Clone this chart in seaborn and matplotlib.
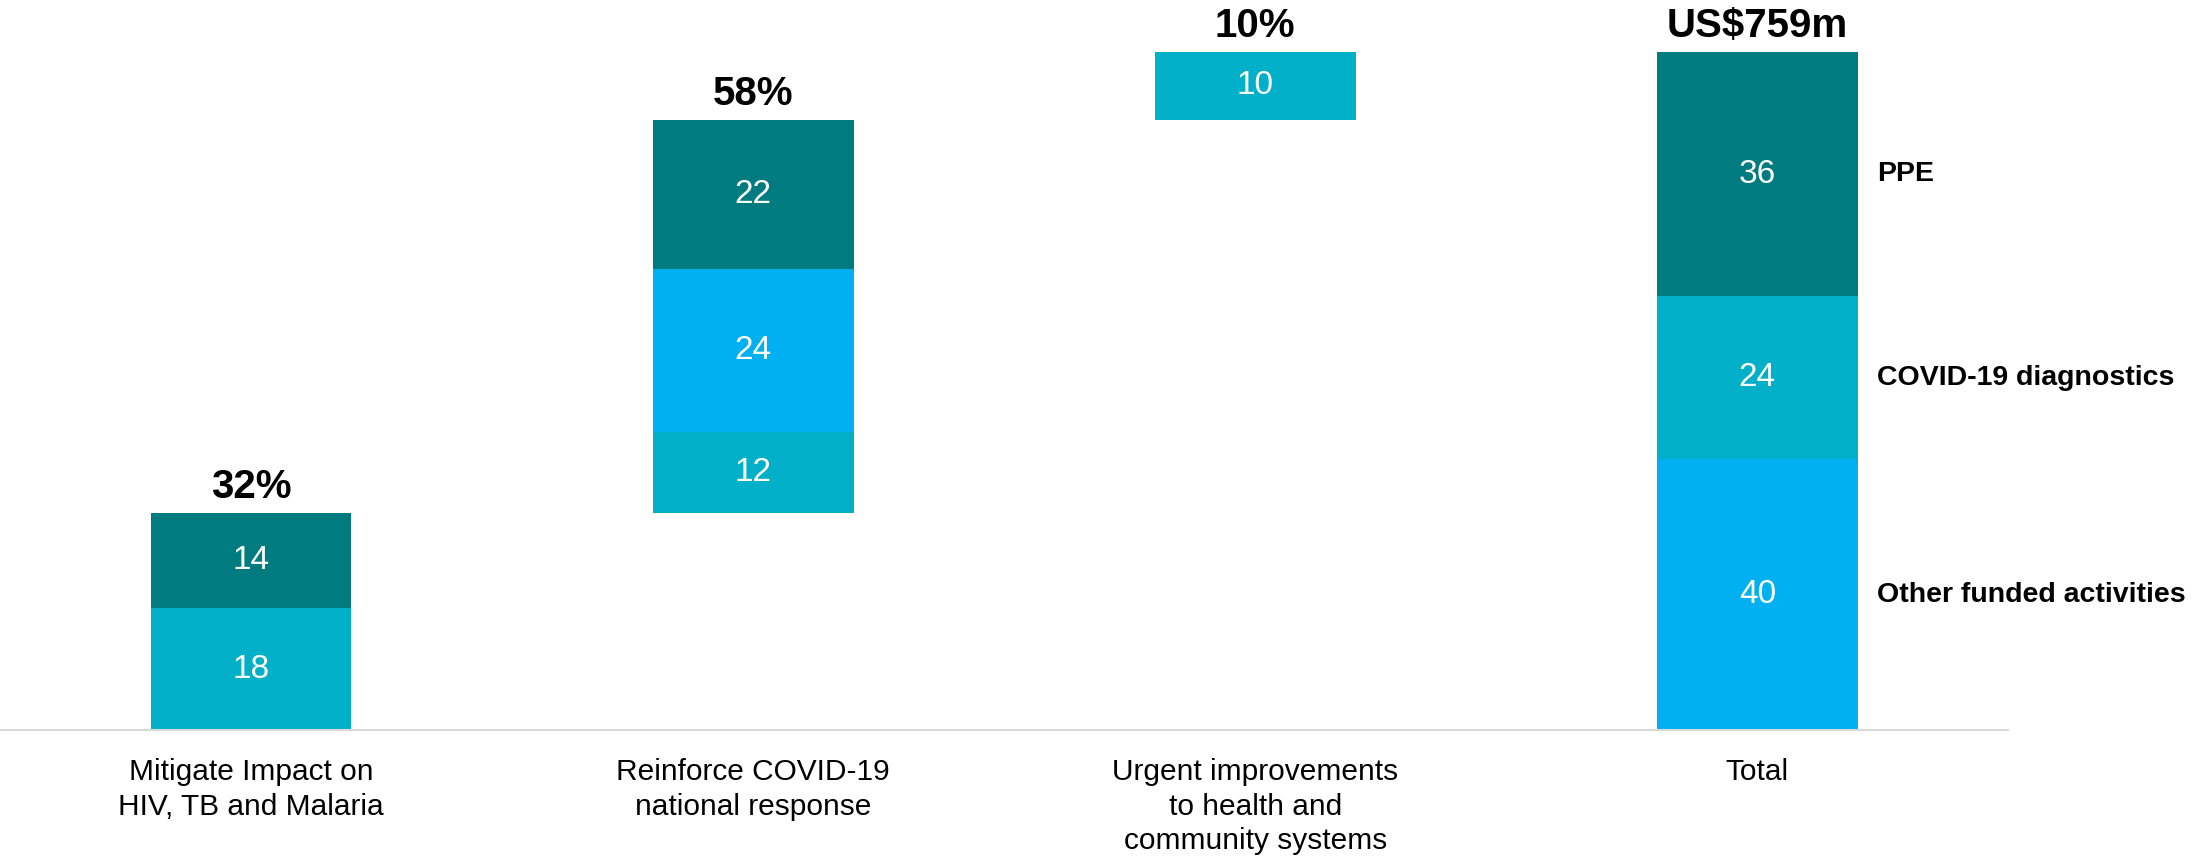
"""
Waterfall-style stacked bars: share of funding by pillar -> out.png
Run: python plot.py
"""
import matplotlib
matplotlib.use("Agg")
import matplotlib.pyplot as plt
import seaborn as sns

# categories along the x axis
categories = [
    "Mitigate Impact on\nHIV, TB and Malaria",
    "Reinforce COVID-19\nnational response",
    "Urgent improvements\nto health and\ncommunity systems",
    "Total",
]
# segment values per category, bottom to top
segment_values = [
    [18, 14],
    [12, 24, 22],
    [10],
    [40, 24, 36],
]
# where each category's stack starts (waterfall offset)
stack_starts = [0, 32, 90, 0]
# label above each bar
top_labels = ["32%", "58%", "10%", "US$759m"]
# labels beside the total bar
legend_labels = ["Other funded activities", "COVID-19 diagnostics", "PPE"]

DARK_TEAL = "#007C80"
MID_TEAL = "#00B0C9"
BRIGHT_BLUE = "#00B0F0"
segment_colors = [
    [MID_TEAL, DARK_TEAL],
    [MID_TEAL, BRIGHT_BLUE, DARK_TEAL],
    [MID_TEAL],
    [BRIGHT_BLUE, MID_TEAL, DARK_TEAL],
]


def main():
    sns.set_style("white")
    plt.rcParams["font.family"] = ["Liberation Sans", "DejaVu Sans"]
    plt.rcParams["text.color"] = "black"
    plt.rcParams["xtick.color"] = "black"

    fig = plt.figure(figsize=(21.95, 8.61), dpi=100)
    ax = fig.add_axes([0, 0.152, 0.915, 0.7875])

    for i, cat in enumerate(categories):
        bottom = stack_starts[i]
        for val, col in zip(segment_values[i], segment_colors[i]):
            sns.barplot(x=[cat], y=[val], bottom=bottom, color=col, order=categories,
                        width=0.4, errorbar=None, saturation=1, linewidth=0, ax=ax)
            ax.text(i, bottom + val / 2, str(val), ha="center", va="center",
                    color="white", fontsize=24)
            bottom += val
        ax.annotate(top_labels[i], (i, bottom), xytext=(0, 5), textcoords="offset points",
                    ha="center", va="bottom", fontsize=29, fontweight="bold",
                    color="black", annotation_clip=False)

    # labels beside the total bar
    starts = [0, 40, 64]
    for lab, s, v in zip(legend_labels, starts, segment_values[3]):
        ax.text(3.238, s + v / 2, lab, ha="left", va="center", fontsize=20.5,
                fontweight="bold", color="black", clip_on=False)

    ax.set_xlim(-0.5, 3.5)
    ax.set_ylim(0, 100)
    ax.set_xlabel("")
    ax.set_ylabel("")
    ax.set_yticks([])
    ax.tick_params(axis="x", length=0, pad=20, labelsize=21.5, labelcolor="black")
    for t in ax.get_xticklabels():
        t.set_linespacing(1.3)
    for side in ["top", "right", "left"]:
        ax.spines[side].set_visible(False)
    ax.spines["bottom"].set_color("#D9D9D9")
    ax.spines["bottom"].set_linewidth(1.5)

    fig.savefig("out.png", dpi=100, facecolor="white")
    plt.close(fig)


if __name__ == "__main__":
    main()
